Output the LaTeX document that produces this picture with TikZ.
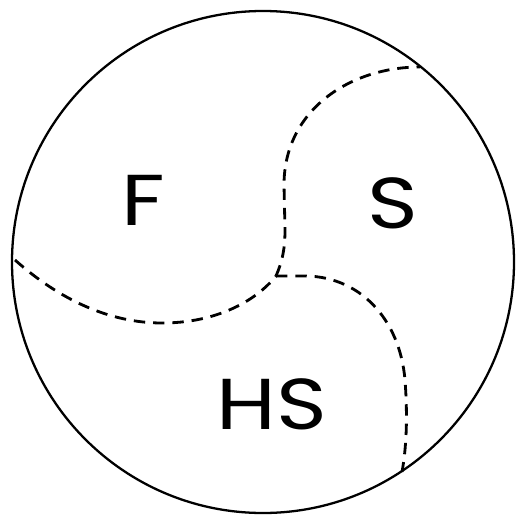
\documentclass[tikz,border=0pt]{standalone}
\usepackage{fontspec}
\setmainfont[FakeStretch=1.2]{Poppins}
\begin{document}
\begin{tikzpicture}[x=0.02cm,y=-0.02cm,
  region/.style={font=\fontsize{41}{41}\selectfont},
  border/.style={line width=1.3pt},
  split/.style={line width=1.6pt,dash pattern=on 6.5pt off 4.5pt}]
\useasboundingbox (0,0) rectangle (515,518);
\coordinate (O) at (263,262);
\coordinate (J) at (276,276);
\draw[border] (O) circle[radius=251];
\draw[split] (15,260) .. controls (60,300) and (110,323) .. (162,323) .. controls (215,323) and (255,302) .. (J);
\draw[split] (J) .. controls (282,262) and (285,250) .. (285,230) -- (284,185) .. controls (284,110) and (350,67) .. (420,67);
\draw[split] (J) -- (300,276) .. controls (360,274) and (400,320) .. (405,380) .. controls (408,420) and (406,450) .. (402,472);
\node[region] (F) at (143,200) {F};
\node[region] (S) at (393,203) {S};
\node[region] (HS) at (272,404) {HS};
\end{tikzpicture}
\end{document}
